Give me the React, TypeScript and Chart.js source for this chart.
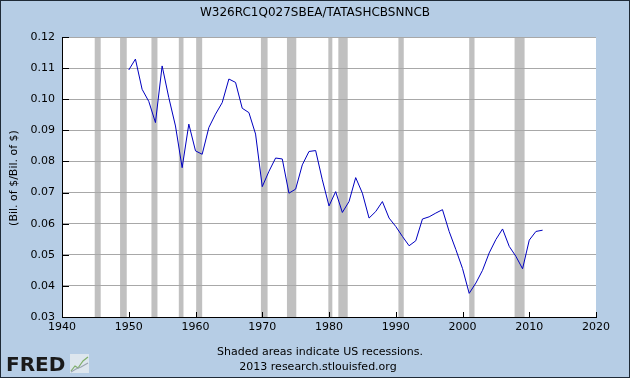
import React, { useEffect, useRef } from "react";
import { Chart, registerables } from "chart.js";

Chart.register(...registerables);

const titleText = "W326RC1Q027SBEA/TATASHCBSNNCB";
const yAxisTitle = "(Bil. of $/Bil. of $)";
const footerLine1 = "Shaded areas indicate US recessions.";
const footerLine2 = "2013 research.stlouisfed.org";

const years = [
  1950, 1951, 1952, 1953, 1954, 1955, 1956, 1957, 1958, 1959,
  1960, 1961, 1962, 1963, 1964, 1965, 1966, 1967, 1968, 1969,
  1970, 1971, 1972, 1973, 1974, 1975, 1976, 1977, 1978, 1979,
  1980, 1981, 1982, 1983, 1984, 1985, 1986, 1987, 1988, 1989,
  1990, 1991, 1992, 1993, 1994, 1995, 1996, 1997, 1998, 1999,
  2000, 2001, 2002, 2003, 2004, 2005, 2006, 2007, 2008, 2009,
  2010, 2011, 2012,
];

const ratio = [
  0.1094, 0.1129, 0.1032, 0.0993, 0.0925, 0.1107, 0.1005, 0.0914, 0.078, 0.092,
  0.0834, 0.0823, 0.0909, 0.0952, 0.0989, 0.1065, 0.1054, 0.0971, 0.0957, 0.0888,
  0.0719, 0.0768, 0.0811, 0.0808, 0.0698, 0.0711, 0.0789, 0.0832, 0.0835, 0.0741,
  0.0657, 0.0703, 0.0636, 0.0671, 0.0748, 0.0698, 0.0618, 0.0639, 0.0671, 0.0618,
  0.0591, 0.0559, 0.0529, 0.0545, 0.0615, 0.0622, 0.0634, 0.0645, 0.0575, 0.0517,
  0.0456, 0.0376, 0.0409, 0.045, 0.0506, 0.0549, 0.0583, 0.0527, 0.0495, 0.0455,
  0.0547, 0.0575, 0.0579,
];

const recessionStart = [1944.9, 1948.7, 1953.4, 1957.5, 1960.1, 1969.8, 1973.7, 1979.9, 1981.4, 1990.4, 2001.0, 2007.8];
const recessionEnd = [1945.8, 1949.7, 1954.3, 1958.2, 1961.0, 1970.8, 1975.1, 1980.5, 1982.8, 1991.2, 2001.8, 2009.3];

const xMin = 1940;
const xMax = 2020;
const xStep = 10;
const yMin = 0.03;
const yMax = 0.12;
const yStep = 0.01;

const BG = "#b6cde5";
const FONT = "'DejaVu Sans', Verdana, sans-serif";

const fredPlugin = {
  id: "fredDecor",
  beforeDraw(chart: any) {
    const { ctx, chartArea, width, height, scales } = chart;
    ctx.save();
    ctx.fillStyle = BG;
    ctx.fillRect(0, 0, width, height);
    ctx.fillStyle = "#ffffff";
    ctx.fillRect(chartArea.left, chartArea.top, chartArea.right - chartArea.left, chartArea.bottom - chartArea.top);
    ctx.fillStyle = "#c0c0c0";
    for (let i = 0; i < recessionStart.length; i++) {
      const a = scales.x.getPixelForValue(recessionStart[i]);
      const b = scales.x.getPixelForValue(recessionEnd[i]);
      ctx.fillRect(a, chartArea.top, Math.max(1, b - a), chartArea.bottom - chartArea.top);
    }
    ctx.restore();
  },
  afterDraw(chart: any) {
    const { ctx, chartArea, width, height, scales } = chart;
    ctx.save();
    // inner tick marks
    ctx.strokeStyle = "#000";
    ctx.lineWidth = 1;
    ctx.beginPath();
    scales.y.ticks.forEach((t: any) => {
      const y = Math.round(scales.y.getPixelForValue(t.value)) + 0.5;
      ctx.moveTo(chartArea.left, y);
      ctx.lineTo(chartArea.left + 7, y);
    });
    scales.x.ticks.forEach((t: any) => {
      const x = Math.round(scales.x.getPixelForValue(t.value)) + 0.5;
      ctx.moveTo(x, chartArea.bottom);
      ctx.lineTo(x, chartArea.bottom - 5);
    });
    ctx.stroke();

    ctx.fillStyle = "#000";
    ctx.textAlign = "center";
    ctx.textBaseline = "middle";
    ctx.font = `12px ${FONT}`;
    ctx.fillText(titleText, 315, 13);

    ctx.save();
    ctx.translate(14, 178);
    ctx.rotate(-Math.PI / 2);
    ctx.font = `11px ${FONT}`;
    ctx.fillText(yAxisTitle, 0, 0);
    ctx.restore();

    ctx.font = `11px ${FONT}`;
    ctx.fillText(footerLine1, 320, 352);
    ctx.fillText(footerLine2, 318, 367);

    // FRED logo
    ctx.textAlign = "left";
    ctx.textBaseline = "alphabetic";
    ctx.font = `bold 20px 'DejaVu Sans', sans-serif`;
    ctx.fillStyle = "#1a1a1a";
    ctx.fillText("FRED", 6, 371);
    ctx.fillStyle = "#dde6ee";
    ctx.fillRect(70, 354, 19, 19);
    ctx.strokeStyle = "#7fae6a";
    ctx.lineWidth = 1.2;
    ctx.beginPath();
    ctx.moveTo(71, 371);
    ctx.lineTo(75, 366);
    ctx.lineTo(78, 368);
    ctx.lineTo(83, 361);
    ctx.lineTo(88, 357);
    ctx.stroke();
    ctx.strokeStyle = "#9aa4b0";
    ctx.beginPath();
    ctx.moveTo(71, 372);
    ctx.lineTo(76, 369);
    ctx.lineTo(81, 367);
    ctx.lineTo(88, 363);
    ctx.stroke();

    ctx.strokeStyle = "#1f2a36";
    ctx.lineWidth = 1;
    ctx.strokeRect(0.5, 0.5, width - 1, height - 1);
    ctx.restore();
  },
};

export default function App() {
  const ref = useRef<HTMLCanvasElement | null>(null);
  useEffect(() => {
    if (!ref.current) return;
    const chart = new Chart(ref.current, {
      type: "line",
      data: {
        datasets: [
          {
            data: years.map((yr, i) => ({ x: yr, y: ratio[i] })),
            borderColor: "#0000c0",
            borderWidth: 1,
            pointRadius: 0,
            tension: 0,
            fill: false,
          },
        ],
      },
      options: {
        animation: false,
        responsive: false,
        devicePixelRatio: 1,
        layout: { padding: { top: 37, right: 34, left: 0, bottom: 0 } },
        plugins: { legend: { display: false }, tooltip: { enabled: false }, title: { display: false } },
        scales: {
          x: {
            type: "linear",
            min: xMin,
            max: xMax,
            ticks: {
              stepSize: xStep,
              color: "#000",
              font: { family: FONT, size: 11 },
              padding: 4,
              maxRotation: 0,
              callback: (v: any) => String(v),
            },
            grid: { display: false, drawTicks: false },
            border: { display: true, color: "#000", width: 1 },
            afterFit: (s: any) => {
              s.height = 61;
            },
          },
          y: {
            type: "linear",
            min: yMin,
            max: yMax,
            ticks: {
              stepSize: yStep,
              color: "#000",
              font: { family: FONT, size: 11 },
              padding: 7,
              callback: (v: any) => Number(v).toFixed(2),
            },
            grid: { color: "#a8a8a8", drawTicks: false, lineWidth: 1 },
            border: { display: true, color: "#000", width: 1 },
            afterFit: (s: any) => {
              s.width = 62;
            },
          },
        },
      },
      plugins: [fredPlugin],
    });
    return () => chart.destroy();
  }, []);
  return (
    <div style={{ position: "fixed", left: 0, top: 0, width: 630, height: 378 }}>
      <canvas ref={ref} width={630} height={378} style={{ width: 630, height: 378, display: "block" }} />
    </div>
  );
}
